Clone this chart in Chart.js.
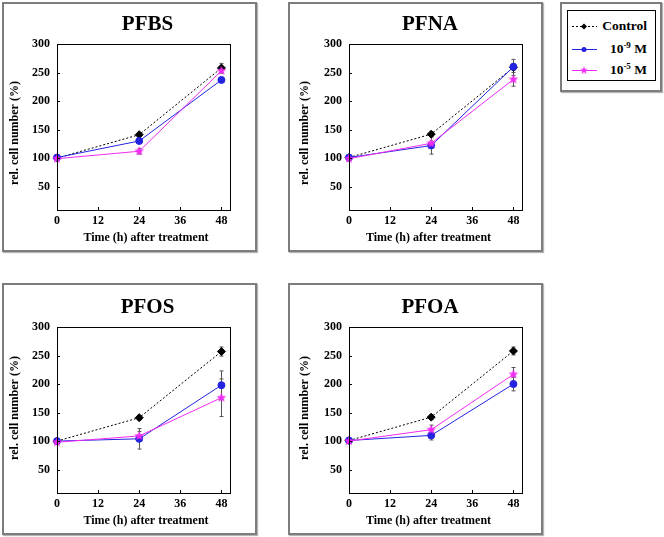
<!DOCTYPE html>
<html>
<head>
<meta charset="utf-8">
<script src="https://cdn.jsdelivr.net/npm/chart.js@4.4.1/dist/chart.umd.min.js"></script>
<style>
    body { margin: 0; width: 664px; height: 537px; overflow: hidden; background: #fff; font-family: "Liberation Serif", "Times New Roman", serif; }
    .panel { position: absolute; border: 2px solid #7d7d7d; box-shadow: 1px 1px 1px #b5b5b5; background: #fff; }
    .panel canvas { display: block; }
    #legend { position: absolute; left: 560px; top: 2px; width: 98px; height: 86px; border: 2px solid #7d7d7d; box-shadow: 1px 1px 1px #b5b5b5; background: #fff; }
    #legend .inner { position: absolute; left: 5px; top: 6px; width: 87px; height: 69px; border: 1px solid #000; }
    #legend .row { position: absolute; left: 0; width: 87px; height: 16px; }
    #legend canvas { position: absolute; left: 4px; top: 3px; }
    #legend span { position: absolute; right: 8px; top: 0; font: bold 13.5px "Liberation Serif", serif; line-height: 16px; color: #000; white-space: nowrap; }
    #legend sup { font-size: 9px; vertical-align: 5px; line-height: 0; }
</style>
</head>
<body>
<div class="panel" style="left:2px;top:2px;width:251px;height:246px"><canvas id="c0" width="251" height="246"></canvas></div>
<div class="panel" style="left:288px;top:2px;width:251px;height:246px"><canvas id="c1" width="251" height="246"></canvas></div>
<div class="panel" style="left:2px;top:283px;width:251px;height:248px"><canvas id="c2" width="251" height="248"></canvas></div>
<div class="panel" style="left:288px;top:283px;width:251px;height:248px"><canvas id="c3" width="251" height="248"></canvas></div>

<div id="legend">
    <div class="inner">
        <div class="row" style="top:7px"><canvas id="lg0" width="26" height="10"></canvas><span>Control</span></div>
        <div class="row" style="top:30px"><canvas id="lg1" width="26" height="10"></canvas><span>10<sup>-9</sup> M</span></div>
        <div class="row" style="top:51px"><canvas id="lg2" width="26" height="10"></canvas><span>10<sup>-5</sup> M</span></div>
    </div>
</div>

<script>
// sampling times and axis ticks
var hours = [0, 24, 48];
var xTicks = [0, 12, 24, 36, 48];
var yTicks = [50, 100, 150, 200, 250, 300];
var panelNames = ['PFBS', 'PFNA', 'PFOS', 'PFOA'];

// rel. cell number (%), mean and error
var pfbsControl = [100, 141, 258], pfbsControlErr = [0, 3, 8];
var pfbsLow     = [101, 130, 237], pfbsLowErr     = [0, 3, 3];
var pfbsHigh    = [99, 112, 253],  pfbsHighErr    = [0, 5, 4];

var pfnaControl = [101, 142, 259], pfnaControlErr = [0, 4, 14];
var pfnaLow     = [101, 122, 260], pfnaLowErr     = [0, 15, 6];
var pfnaHigh    = [99, 126, 238],  pfnaHighErr    = [0, 4, 12];

var pfosControl = [100, 141, 257], pfosControlErr = [0, 4, 8];
var pfosLow     = [100, 104, 198], pfosLowErr     = [0, 18, 25];
var pfosHigh    = [98, 109, 176],  pfosHighErr    = [0, 8, 33];

var pfoaControl = [101, 142, 258], pfoaControlErr = [0, 4, 7];
var pfoaLow     = [101, 110, 200], pfoaLowErr     = [0, 8, 12];
var pfoaHigh    = [100, 120, 217], pfoaHighErr    = [0, 8, 12];

var controls = [pfbsControl, pfnaControl, pfosControl, pfoaControl];
var controlErrs = [pfbsControlErr, pfnaControlErr, pfosControlErr, pfoaControlErr];
var lows = [pfbsLow, pfnaLow, pfosLow, pfoaLow];
var lowErrs = [pfbsLowErr, pfnaLowErr, pfosLowErr, pfoaLowErr];
var highs = [pfbsHigh, pfnaHigh, pfosHigh, pfoaHigh];
var highErrs = [pfbsHighErr, pfnaHighErr, pfosHighErr, pfoaHighErr];

var BLUE = '#2323e0';
var PINK = '#f22cf2';
var FONT = '"Liberation Serif", "Times New Roman", serif';

// per panel layout (pixels inside each panel)
var layouts = [
    { yw: 53, pr: 25, pt: 40, tx: 143.5, ty: 21, ytx: 11, yty: 129 },
    { yw: 59, pr: 19, pt: 40, tx: 140,   ty: 21, ytx: 15, yty: 129 },
    { yw: 53, pr: 25, pt: 42, tx: 143.5, ty: 23, ytx: 11, yty: 123 },
    { yw: 59, pr: 19, pt: 42, tx: 140,   ty: 23, ytx: 15, yty: 123 }
];

function makeStar(r, color) {
    var c = document.createElement('canvas');
    c.width = c.height = 2 * r + 2;
    var ctx = c.getContext('2d');
    ctx.fillStyle = color;
    ctx.beginPath();
    for (var i = 0; i < 10; i++) {
        var rad = i % 2 ? r * 0.45 : r;
        var a = -Math.PI / 2 + i * Math.PI / 5;
        ctx.lineTo(r + 1 + rad * Math.cos(a), r + 1 + rad * Math.sin(a));
    }
    ctx.closePath();
    ctx.fill();
    return c;
}
var starImg = makeStar(5, PINK);
var smallStar = makeStar(4, PINK);

function points(values) {
    return hours.map(function(h, i) { return { x: h, y: values[i] }; });
}

// frame, inward ticks, error bars and the texts of each panel
var decoPlugin = {
    id: 'deco',
    beforeDatasetsDraw: function(chart) {
        var ctx = chart.ctx, xs = chart.scales.x, ys = chart.scales.y;
        ctx.save();
        ctx.strokeStyle = '#555';
        ctx.lineWidth = 1;
        chart.data.datasets.forEach(function(ds) {
            ds.errors.forEach(function(e, j) {
                if (!e) return;
                var x = Math.round(xs.getPixelForValue(hours[j])) + 0.5;
                var y1 = ys.getPixelForValue(ds.data[j].y + e);
                var y2 = ys.getPixelForValue(ds.data[j].y - e);
                ctx.beginPath();
                ctx.moveTo(x, y1); ctx.lineTo(x, y2);
                ctx.moveTo(x - 2, y1); ctx.lineTo(x + 2, y1);
                ctx.moveTo(x - 2, y2); ctx.lineTo(x + 2, y2);
                ctx.stroke();
            });
        });
        ctx.restore();
    },
    afterDraw: function(chart, args, opts) {
        var ctx = chart.ctx, a = chart.chartArea, xs = chart.scales.x, ys = chart.scales.y;
        ctx.save();
        ctx.strokeStyle = '#000';
        ctx.lineWidth = 1;
        ctx.strokeRect(Math.round(a.left) + 0.5, Math.round(a.top) + 0.5, Math.round(a.right - a.left), Math.round(a.bottom - a.top));
        ctx.beginPath();
        xTicks.forEach(function(v) {
            var x = Math.round(xs.getPixelForValue(v)) + 0.5;
            ctx.moveTo(x, a.bottom); ctx.lineTo(x, a.bottom - 3);
        });
        yTicks.forEach(function(v) {
            var y = Math.round(ys.getPixelForValue(v)) + 0.5;
            ctx.moveTo(a.left, y); ctx.lineTo(a.left + 3, y);
        });
        ctx.stroke();

        ctx.fillStyle = '#000';
        ctx.textAlign = 'center';
        ctx.textBaseline = 'middle';
        ctx.font = 'bold 21px ' + FONT;
        ctx.fillText(opts.title, opts.tx, opts.ty);
        ctx.font = 'bold 12px ' + FONT;
        ctx.fillText('Time (h) after treatment', opts.tx - 1.5, a.bottom + 27.5);
        ctx.translate(opts.ytx, opts.yty);
        ctx.rotate(-Math.PI / 2);
        ctx.fillText('rel. cell number (%)', 0, 0);
        ctx.restore();
    }
};

panelNames.forEach(function(name, i) {
    var L = layouts[i];
    new Chart(document.getElementById('c' + i), {
        type: 'line',
        data: {
            datasets: [
                {
                    label: 'Control', data: points(controls[i]), errors: controlErrs[i],
                    borderColor: '#000', borderWidth: 1, borderDash: [2, 2],
                    pointStyle: 'rectRot', pointRadius: 4, pointBackgroundColor: '#000', pointBorderColor: '#000',
                    order: 2
                },
                {
                    label: '10-9 M', data: points(lows[i]), errors: lowErrs[i],
                    borderColor: BLUE, borderWidth: 1,
                    pointStyle: 'circle', pointRadius: 3.5, pointBackgroundColor: BLUE, pointBorderColor: BLUE,
                    order: 1
                },
                {
                    label: '10-5 M', data: points(highs[i]), errors: highErrs[i],
                    borderColor: PINK, borderWidth: 1,
                    pointStyle: starImg,
                    order: 0
                }
            ]
        },
        options: {
            responsive: false,
            animation: false,
            clip: false,
            layout: { padding: { left: 0, top: L.pt, right: L.pr, bottom: 0 } },
            plugins: {
                legend: { display: false },
                tooltip: { enabled: false },
                deco: { title: name, tx: L.tx, ty: L.ty, ytx: L.ytx, yty: L.yty }
            },
            scales: {
                x: {
                    type: 'linear', min: 0, max: 50.5,
                    grid: { display: false, drawTicks: false },
                    border: { display: false },
                    afterBuildTicks: function(axis) { axis.ticks = xTicks.map(function(v) { return { value: v }; }); },
                    afterFit: function(scale) { scale.height = 40; },
                    ticks: { color: '#000', padding: 4, maxRotation: 0, font: { family: FONT, size: 12, weight: 'bold' } }
                },
                y: {
                    min: 9, max: 300,
                    grid: { display: false, drawTicks: false },
                    border: { display: false },
                    afterBuildTicks: function(axis) { axis.ticks = yTicks.map(function(v) { return { value: v }; }); },
                    afterFit: function(scale) { scale.width = L.yw; },
                    ticks: { color: '#000', padding: 7, font: { family: FONT, size: 12, weight: 'bold' } }
                }
            }
        },
        plugins: [decoPlugin]
    });
});

// legend samples
function drawSample(id, color, dash, marker) {
    var ctx = document.getElementById(id).getContext('2d');
    ctx.strokeStyle = color;
    ctx.lineWidth = 1;
    ctx.setLineDash(dash);
    ctx.beginPath();
    ctx.moveTo(0, 5.5); ctx.lineTo(25, 5.5);
    ctx.stroke();
    ctx.setLineDash([]);
    ctx.fillStyle = color;
    if (marker === 'diamond') {
        ctx.beginPath();
        ctx.moveTo(12, 2.5); ctx.lineTo(15, 5.5); ctx.lineTo(12, 8.5); ctx.lineTo(9, 5.5);
        ctx.closePath(); ctx.fill();
    } else if (marker === 'circle') {
        ctx.beginPath(); ctx.arc(12, 5.5, 2.5, 0, Math.PI * 2); ctx.fill();
    } else {
        ctx.drawImage(smallStar, 12 - smallStar.width / 2, 5.5 - smallStar.height / 2);
    }
}
drawSample('lg0', '#000', [2, 2], 'diamond');
drawSample('lg1', BLUE, [], 'circle');
drawSample('lg2', PINK, [], 'star');
</script>
</body>
</html>
